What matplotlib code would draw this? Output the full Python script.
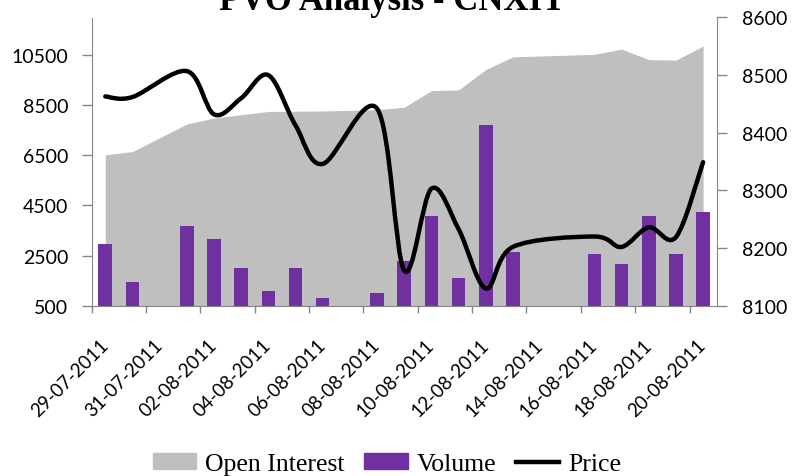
import matplotlib
matplotlib.use("Agg")
import matplotlib.pyplot as plt
import numpy as np
import pandas as pd
from matplotlib.lines import Line2D
from matplotlib.patches import Patch, PathPatch
from matplotlib.path import Path

TITLE = "PVO Analysis - CNXIT"

dates = ["29-07-2011", "30-07-2011", "01-08-2011", "02-08-2011", "03-08-2011",
         "04-08-2011", "05-08-2011", "06-08-2011", "08-08-2011", "09-08-2011",
         "10-08-2011", "11-08-2011", "12-08-2011", "13-08-2011", "16-08-2011",
         "17-08-2011", "18-08-2011", "19-08-2011", "20-08-2011"]
open_interest = [6520, 6650, 7750, 7990, 8120, 8250, 8260, 8270, 8320, 8420,
                 9080, 9110, 9920, 10430, 10530, 10740, 10320, 10300, 10860]
volume = [2950, 1450, 3700, 3170, 2010, 1090, 2010, 810, 1010, 2300,
          4090, 1610, 7700, 2650, 2580, 2170, 4090, 2580, 4220]
price = [8463, 8462, 8507, 8432, 8460, 8500, 8413, 8346, 8442, 8161,
         8303, 8233, 8130, 8202, 8220, 8202, 8236, 8219, 8349]

GREY = "#BFBFBF"
PURPLE = "#7030A0"
AXIS = "#868686"


def smooth_path(x, y):
    # excel-style smoothed line: cubic bezier, catmull-rom control points
    pts = np.column_stack([x, y]).astype(float)
    ext = np.vstack([pts[0], pts, pts[-1]])
    verts = [pts[0]]
    codes = [Path.MOVETO]
    for i in range(1, len(ext) - 2):
        p0, p1, p2, p3 = ext[i - 1], ext[i], ext[i + 1], ext[i + 2]
        verts += [p1 + (p2 - p0) / 6.0, p2 - (p3 - p1) / 6.0, p2]
        codes += [Path.CURVE4] * 3
    return Path(verts, codes)


def main():
    d = pd.to_datetime(dates, format="%d-%m-%Y")
    start = d[0]
    x = np.array([(t - start).days for t in d])
    ndays = x[-1] + 1

    fig = plt.figure(figsize=(7.93, 4.77), dpi=100)
    ax = fig.add_axes([91.7 / 793, 1 - 306.7 / 477, 625 / 793, 288.2 / 477])
    ax2 = ax.twinx()

    ax.fill_between(x, 500, open_interest, color=GREY, lw=0, zorder=1)
    ax.bar(x, np.array(volume) - 500, bottom=500, width=0.5, color=PURPLE, zorder=2)
    ax2.add_patch(PathPatch(smooth_path(x, price), fill=False, edgecolor="black",
                            lw=3.2, capstyle="round", joinstyle="round"))

    ax.set_xlim(-0.5, ndays - 0.5)
    ax.set_ylim(500, 12000)
    ax2.set_ylim(8100, 8600)
    ax.set_yticks(np.arange(500, 12000, 2000))
    ax2.set_yticks(np.arange(8100, 8601, 100))

    centres = np.arange(0, ndays, 2)
    ax.set_xticks(centres)
    ax.set_xticklabels([(start + pd.Timedelta(days=int(c))).strftime("%d-%m-%Y")
                        for c in centres],
                       rotation=45, ha="right", va="center", rotation_mode="anchor")
    ax.set_xticks(np.arange(-0.5, ndays - 1, 2), minor=True)
    ax.tick_params(axis="x", which="major", length=0, pad=26)
    ax.tick_params(axis="x", which="minor", length=5, color=AXIS, width=1)

    for a in (ax, ax2):
        a.spines["top"].set_visible(False)
        for s in ("left", "right", "bottom"):
            a.spines[s].set_color(AXIS)
        a.tick_params(axis="y", length=7, color=AXIS, width=1)
        for lab in a.get_yticklabels():
            lab.set_family("Lato")
            lab.set_fontsize(14)
    for lab in ax.get_xticklabels():
        lab.set_family("Lato")
        lab.set_fontsize(13.5)
    ax.tick_params(axis="y", pad=10)
    ax2.tick_params(axis="y", pad=11)
    ax.spines["right"].set_visible(False)
    ax2.spines["left"].set_visible(False)
    ax2.spines["bottom"].set_visible(False)

    fig.text(392 / 793, 1 - 10 / 477, TITLE, ha="center", va="baseline",
             fontsize=25, fontweight="bold", family="Liberation Serif")

    handles = [Patch(color=GREY), Patch(color=PURPLE), Line2D([], [], color="black", lw=3.2)]
    fig.legend(handles, ["Open Interest", "Volume", "Price"], loc="center",
               bbox_to_anchor=(387 / 793, 1 - 465 / 477), ncol=3, frameon=False,
               prop={"family": "Liberation Serif", "size": 18.5},
               handlelength=1.7, handleheight=0.6, handletextpad=0.35,
               columnspacing=0.75)

    fig.savefig("out.png", dpi=100)


if __name__ == "__main__":
    main()
